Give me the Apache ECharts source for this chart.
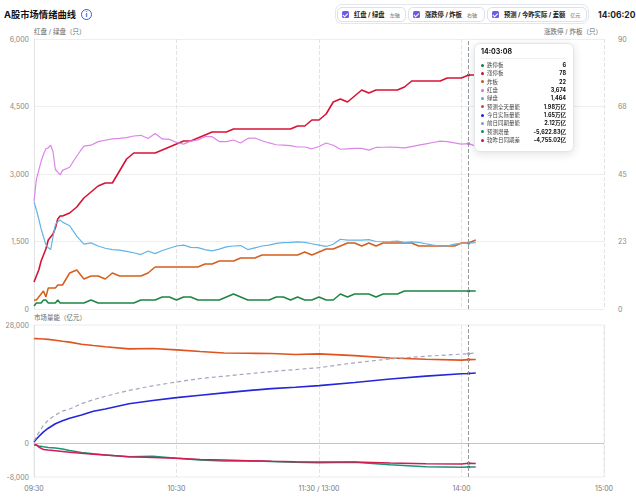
<!DOCTYPE html>
<html>
<head>
<meta charset="utf-8">
<title>A股市场情绪曲线</title>
<script src="https://cdn.jsdelivr.net/npm/echarts@6.0.0/dist/echarts.min.js"></script>
<style>
  html, body { margin: 0; padding: 0; background: #fff; }
  body { width: 636px; height: 500px; position: relative; overflow: hidden;
         font-family: Inter, "Noto Sans CJK SC", sans-serif; }
  #chart { position: absolute; left: 0; top: 0; width: 636px; height: 500px; }
  .title { position: absolute; left: 4px; top: 8px; font-size: 9.3px; font-weight: 700;
           color: #111; line-height: 14px; z-index: 2; }
  .info { position: absolute; left: 81px; top: 9px; width: 9px; height: 9px; border: 1.3px solid #2b63d9;
          border-radius: 50%; color: #2b63d9; font-size: 7px; font-weight: 700; line-height: 9px;
          text-align: center; z-index: 2; }
  .toggles { position: absolute; left: 335px; top: 4px; width: 254px; height: 20px; box-sizing: border-box;
             border: 1px solid #e3e6ee; border-radius: 7px; z-index: 2; }
  .pill { position: absolute; top: 2px; height: 15px; box-sizing: border-box; border: 1px solid #dde1e9;
          border-radius: 5px; display: flex; align-items: center; padding-left: 4px;
          font-size: 6.3px; font-weight: 700; color: #222; white-space: nowrap; }
  .pill small { font-size: 5px; font-weight: 500; color: #888; margin-left: 5px; }
  .cb { width: 7px; height: 7px; border-radius: 1.5px; background: #6c5ce7; margin-right: 5px; position: relative; }
  .cb::after { content: ""; position: absolute; left: 2.2px; top: 0.6px; width: 1.6px; height: 3.6px;
               border: solid #fff; border-width: 0 1.1px 1.1px 0; transform: rotate(45deg); }
  .clock { position: absolute; left: 598px; top: 8px; font-size: 8.5px; font-weight: 700; color: #222;
           line-height: 14px; z-index: 2; }
</style>
</head>
<body>
<div id="chart"></div>
<div class="title">A股市场情绪曲线</div>
<div class="info">i</div>
<div class="toggles">
  <div class="pill" style="left:1px;width:69px;"><span class="cb"></span>红盘 / 绿盘<small>左轴</small></div>
  <div class="pill" style="left:72px;width:77px;"><span class="cb"></span>涨跌停 / 炸板<small>右轴</small></div>
  <div class="pill" style="left:151px;width:100px;"><span class="cb"></span>预测 / 今昨实际 / 差额<small>亿元</small></div>
</div>
<div class="clock">14:06:20</div>
<script>
// 分钟序号（09:30 起，午休不计）
const timeLabels = ['09:30', '10:30', '11:30 / 13:00', '14:00', '15:00'];
const countTicks = [0, 1500, 3000, 4500, 6000];
const limitTicks = [0, 23, 45, 68, 90];
const volTicks = [-8000, 0, 28000];
const cursorMinute = 183;
const cursorTime = '14:03:08';

// 上图：涨跌停 / 红绿盘
const minutes = [0, 1, 2, 3, 4, 5, 6, 7, 8, 9, 10, 11, 12,
  15, 18, 21, 24, 27, 30, 33, 36, 39, 42, 45, 48, 51, 54, 57, 60, 63, 66, 69, 72, 75, 78, 81, 84, 87, 90,
  93, 96, 99, 102, 105, 108, 111, 114, 117, 120, 123, 126, 129, 132, 135, 138, 141, 144, 147, 150,
  153, 156, 159, 162, 165, 168, 171, 174, 177, 180, 183, 186];

const dieting = [1, 2, 2, 2, 3, 3, 2, 2, 2, 2, 3, 2, 2,
  2, 2, 2, 3, 2, 2, 2, 2, 2, 2, 3, 3, 3, 4, 4, 3, 4, 4, 3, 3, 3, 3, 4, 5, 4, 3,
  3, 3, 3, 4, 4, 3, 4, 3, 3, 4, 3, 3, 5, 4, 5, 5, 5, 4, 5, 5,
  5, 6, 6, 6, 6, 6, 6, 6, 6, 6, 6, 6];

const zhangting = [9, 11, 13, 16, 18, 20, 23, 24, 25, 27, 30, 31, 31,
  32, 34, 37, 39, 41, 42, 42, 46, 50, 52, 52, 52, 52, 53, 54, 55, 56, 56, 57, 58, 59, 59, 59, 60, 60, 60,
  60, 60, 60, 60, 60, 60, 61, 61, 63, 63, 65, 69, 70, 69, 71, 73, 72, 73, 73, 73,
  73, 74, 76, 76, 76, 76, 76, 77, 77, 77, 78, 78];

const zhaban = [3, 3, 4, 5, 6, 4, 7, 7, 7, 7, 8, 8, 8,
  12, 13, 10, 11, 11, 10, 12, 11, 11, 11, 11, 12, 14, 14, 14, 14, 14, 14, 14, 15, 15, 16, 16, 16, 17, 17,
  17, 18, 18, 18, 18, 18, 18, 19, 18, 19, 20, 20, 21, 22, 22, 21, 22, 21, 22, 22,
  22, 22, 22, 21, 21, 21, 21, 21, 21, 22, 22, 23];

const hongpan = [2400, 2880, 3080, 3280, 3440, 3560, 3580, 3640, 3500, 3100, 3040, 2980, 3080,
  3150, 3400, 3620, 3640, 3720, 3750, 3780, 3790, 3810, 3845, 3860, 3790, 3900, 3780, 3770, 3700, 3665,
  3730, 3755, 3830, 3830, 3720, 3720, 3755, 3690, 3790, 3800, 3740, 3690, 3650, 3640, 3630, 3600, 3600,
  3560, 3610, 3690, 3640, 3550, 3560, 3570, 3570, 3530, 3590, 3595, 3600, 3590, 3580, 3610, 3640, 3670,
  3700, 3730, 3720, 3690, 3665, 3674, 3620];

const lvpan = [2385, 2200, 2000, 1780, 1600, 1430, 1360, 1320, 1600, 1870, 1940, 1980, 1930,
  1850, 1620, 1440, 1470, 1400, 1350, 1320, 1310, 1280, 1250, 1210, 1290, 1230, 1300, 1350, 1400, 1420,
  1370, 1365, 1320, 1290, 1330, 1380, 1400, 1410, 1320, 1360, 1400, 1420, 1460, 1475, 1480, 1490, 1480,
  1450, 1420, 1390, 1440, 1550, 1530, 1530, 1530, 1540, 1500, 1495, 1500, 1510, 1480, 1490, 1480, 1450,
  1420, 1400, 1400, 1440, 1460, 1464, 1475];

// 下图：市场量能（亿元）
const volMinutes = [0, 1, 2, 4, 6, 9, 12, 15, 20, 25, 30, 40, 50, 60, 70, 80, 90, 100, 110, 120, 135, 150, 165, 180, 183, 186];

const forecastVol = [24800, 24780, 24760, 24700, 24600, 24380, 24150, 23950, 23450, 23130, 22850, 22350, 22430,
  22100, 21710, 21370, 21300, 21250, 21030, 21150, 20750, 20200, 19900, 19680, 19800, 19820];

const todayVol = [300, 1000, 1600, 2700, 3550, 4600, 5300, 5900, 6700, 7580, 8100, 9340, 10100,
  10800, 11370, 11930, 12460, 12940, 13270, 13640, 14400, 15220, 15900, 16440, 16500, 16650];

const prevVol = [500, 1500, 2500, 4250, 5450, 6700, 7600, 8100, 9350, 10300, 11120, 12530, 13600,
  14500, 15330, 15870, 16440, 16980, 17440, 17900, 19040, 19960, 20590, 21100, 21200, 21390];

const forecastDelta = [-400, -500, -650, -850, -1000, -1150, -1380, -1700, -2170, -2500, -2780, -3180, -3100,
  -3550, -3990, -4190, -4200, -4340, -4500, -4650, -4500, -5080, -5550, -5700, -5622.83, -5640];

const prevDiff = [0, -400, -900, -1500, -1620, -1780, -1950, -2120, -2400, -2590, -2780, -3180, -3370,
  -3550, -3870, -3990, -4130, -4280, -4400, -4420, -4460, -4700, -4860, -4900, -4755.02, -4780];

const fontFamily = 'Inter, "Noto Sans CJK SC", sans-serif';
const countSeries = ['跌停板', '涨停板', '炸板', '红盘', '绿盘'];

function pairs(xs, ys) {
  return xs.map((x, i) => [x, ys[i]]);
}

function line(name, xi, yi, xs, ys, color, width, extra) {
  return Object.assign({
    name: name,
    type: 'line',
    xAxisIndex: xi,
    yAxisIndex: yi,
    data: pairs(xs, ys),
    color: color,
    showSymbol: false,
    symbol: 'circle',
    symbolSize: 3,
    lineStyle: { width: width, color: color },
    emphasis: { scale: false, lineStyle: { width: width } }
  }, extra || {});
}

function fmtValue(name, v) {
  if (countSeries.indexOf(name) >= 0) {
    return v.toLocaleString('en-US');
  }
  if (Math.abs(v) >= 10000) {
    return (v / 10000).toFixed(2) + '万亿';
  }
  return v.toLocaleString('en-US', { minimumFractionDigits: 2, maximumFractionDigits: 2 }) + '亿';
}

const chart = echarts.init(document.getElementById('chart'), null, { renderer: 'svg' });

const xSplit = { show: true, lineStyle: { type: 'dashed', color: '#e3e3e3' } };
const axisName = { fontSize: 6.5, color: '#666' };

const option = {
  animation: false,
  textStyle: { fontFamily: fontFamily },
  grid: [
    { left: 34, right: 32, top: 39, height: 270 },
    { left: 34, right: 32, top: 325, height: 152, show: true, borderColor: '#ececec', borderWidth: 1 }
  ],
  axisPointer: { link: [{ xAxisIndex: 'all' }] },
  tooltip: {
    trigger: 'axis',
    triggerOn: 'none',
    alwaysShowContent: true,
    position: [474, 43],
    backgroundColor: '#fff',
    borderColor: '#e2e5ec',
    borderWidth: 1,
    padding: [3, 7, 7, 6],
    extraCssText: 'border-radius:6px;box-shadow:0 2px 8px rgba(30,40,60,0.14);width:85px;',
    axisPointer: {
      type: 'line',
      lineStyle: { color: '#9a9a9a', type: 'dashed', width: 1 },
      label: { show: false }
    },
    formatter: function (params) {
      let html = '<div style="font-size:7px;font-weight:700;color:#111;line-height:9px;padding-bottom:2px;' +
        'border-bottom:1px solid #eef0f3;margin-bottom:2px;">' + cursorTime + '</div>';
      params.forEach(function (p) {
        html += '<div style="display:flex;align-items:center;height:8.33px;line-height:8.33px;font-size:5.5px;">' +
          '<span style="width:3px;height:3px;border-radius:50%;background:' + p.color + ';margin-right:3px;"></span>' +
          '<span style="flex:1;color:#444;">' + p.seriesName + '</span>' +
          '<span style="font-weight:700;color:#111;">' + fmtValue(p.seriesName, p.value[1]) + '</span></div>';
      });
      return html;
    }
  },
  xAxis: [
    {
      gridIndex: 0, type: 'value', min: 0, max: 240, interval: 60,
      axisLine: { show: false }, axisTick: { show: false }, axisLabel: { show: false },
      splitLine: xSplit
    },
    {
      gridIndex: 1, type: 'value', min: 0, max: 240, interval: 60,
      axisLine: { show: false, onZero: false }, axisTick: { show: false },
      axisLabel: {
        fontSize: 7, color: '#777', margin: 8, showMinLabel: true, showMaxLabel: true,
        formatter: v => timeLabels[v / 60]
      },
      splitLine: xSplit
    }
  ],
  yAxis: [
    {
      gridIndex: 0, type: 'value', min: 0, max: 6000, interval: 1500, position: 'left',
      name: '红盘 / 绿盘（只）', nameLocation: 'end', nameGap: 4,
      nameTextStyle: Object.assign({ align: 'left' }, axisName),
      axisLine: { show: true, lineStyle: { color: '#e3e3e3' } }, axisTick: { show: false },
      axisLabel: { fontSize: 7, color: '#888', margin: 5, formatter: v => countTicks[v / 1500].toLocaleString('en-US') },
      splitLine: { lineStyle: { color: '#eeeeee' } }
    },
    {
      gridIndex: 0, type: 'value', min: 0, max: 90, interval: 22.5, position: 'right',
      name: '涨跌停 / 炸板（只）', nameLocation: 'end', nameGap: 4,
      nameTextStyle: Object.assign({ align: 'right', padding: [0, 2, 0, 0] }, axisName),
      axisLine: { show: false }, axisTick: { show: false },
      axisLabel: { fontSize: 7, color: '#888', margin: 14, formatter: v => String(limitTicks[Math.round(v / 22.5)]) },
      splitLine: { show: false }
    },
    {
      gridIndex: 1, type: 'value', min: -8000, max: 28000, interval: 4000, position: 'left',
      name: '市场量能（亿元）', nameLocation: 'end', nameGap: 4,
      nameTextStyle: Object.assign({ align: 'left' }, axisName),
      axisLine: { show: true, lineStyle: { color: '#e3e3e3' } }, axisTick: { show: false },
      axisLabel: {
        fontSize: 7, color: '#888', margin: 5,
        formatter: v => volTicks.indexOf(v) >= 0 ? v.toLocaleString('en-US') : ''
      },
      splitLine: { show: false }
    }
  ],
  series: [
    line('跌停板', 0, 1, minutes, dieting, '#1b7a3e', 1.5),
    line('涨停板', 0, 1, minutes, zhangting, '#c41230', 1.6),
    line('炸板', 0, 1, minutes, zhaban, '#c2561a', 1.5),
    line('红盘', 0, 0, minutes, hongpan, '#c978d6', 1.2),
    line('绿盘', 0, 0, minutes, lvpan, '#5ba3d0', 1.2),
    line('预测全天量能', 1, 2, volMinutes, forecastVol, '#cc4b1c', 1.6),
    line('今日实际量能', 1, 2, volMinutes, todayVol, '#2323c8', 1.6, {
      markLine: {
        silent: true, symbol: 'none', label: { show: false },
        lineStyle: { color: '#c4c4c8', width: 1.2, type: 'solid' },
        data: [{ yAxis: 0 }]
      }
    }),
    line('前日同期量能', 1, 2, volMinutes, prevVol, '#9498ac', 1.2, {
      lineStyle: { width: 1.2, color: '#9498ac', type: [4, 3] }
    }),
    line('预测增量', 1, 2, volMinutes, forecastDelta, '#16876e', 1.5),
    line('较昨日同期差', 1, 2, volMinutes, prevDiff, '#c0184a', 1.5)
  ]
};

chart.setOption(option);
chart.dispatchAction({ type: 'showTip', seriesIndex: 0, dataIndex: minutes.indexOf(cursorMinute) });
</script>
</body>
</html>
